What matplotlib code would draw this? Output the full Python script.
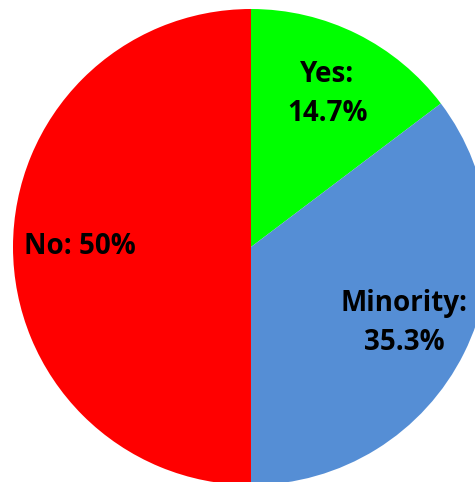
import matplotlib
matplotlib.use("Agg")
import matplotlib.pyplot as plt

categories = ["Yes", "Minority", "No"]
values = [14.7, 35.3, 50]
label_texts = ["Yes:\n14.7%", "Minority:\n35.3%", "No: 50%"]
colors = ["#00FF00", "#558ED5", "#FF0000"]

W, H = 475, 482
fig = plt.figure(figsize=(W / 100, H / 100), dpi=100)
ax = fig.add_axes([0, 0, 1, 1])

wedges, texts = ax.pie(values, labels=label_texts, colors=colors, startangle=90,
                       counterclock=False, center=(251, H - 247), radius=238,
                       labeldistance=0.72, frame=True,
                       textprops=dict(fontsize=20, fontweight="bold",
                                      family=["Open Sans", "DejaVu Sans"]))
for t in texts:
    t.set_ha("center")
    t.set_va("center")
    t.set_linespacing(1.45)
ax.set_xlim(0, W)
ax.set_ylim(0, H)
ax.set_aspect("equal")
ax.axis("off")

fig.savefig("out.png", dpi=100)
